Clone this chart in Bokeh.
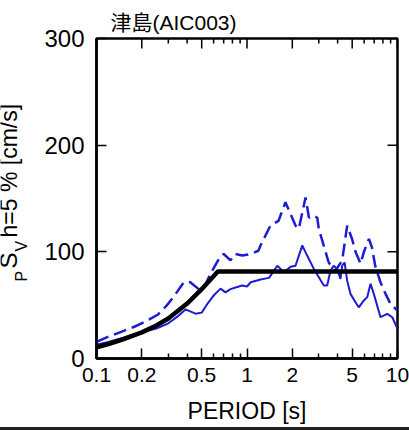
import math
from bokeh.plotting import figure
from bokeh.models import Range1d, FixedTicker, Label, Title
from bokeh.layouts import row
from bokeh.embed import file_html
from bokeh.resources import INLINE

# ---- data ----
period_design = [0.1, 0.12, 0.15, 0.2, 0.25, 0.3, 0.4, 0.5, 0.64, 10.0]
sv_design = [10.5, 13.5, 18.0, 24.5, 31.0, 37.5, 51.5, 65.0, 81.5, 81.5]

period_solid = [0.1, 0.12, 0.15, 0.18, 0.2, 0.25, 0.3, 0.35, 0.39, 0.455, 0.5,
                0.55, 0.6, 0.667, 0.72, 0.777, 0.861, 0.929, 1.0, 1.06, 1.23,
                1.40, 1.59, 1.76, 1.95, 2.10, 2.33, 2.51, 2.78, 3.24, 3.41,
                3.59, 3.77, 3.97, 4.18, 4.29, 4.45, 4.63, 4.87, 5.26, 5.53,
                5.98, 6.29, 6.62, 6.96, 7.71, 8.55, 9.23, 10.0]
sv_solid = [13.0, 15.5, 19.5, 23.0, 24.5, 28.0, 33.0, 40.0, 46.0, 42.0, 43.0,
            52.0, 59.0, 65.5, 62.0, 65.0, 67.0, 68.4, 67.5, 71.5, 74.0,
            75.6, 87.0, 81.0, 86.0, 87.0, 106.0, 96.5, 84.0, 68.4, 68.4,
            82.5, 87.0, 84.0, 74.7, 87.0, 90.0, 73.0, 60.6, 52.8, 48.0,
            54.4, 57.5, 70.0, 60.6, 38.7, 41.9, 38.7, 27.8]

period_dash = [0.1, 0.12, 0.146, 0.18, 0.21, 0.255, 0.29, 0.33, 0.38, 0.42,
               0.49, 0.52, 0.57, 0.66, 0.70, 0.777, 0.837, 0.93, 1.055, 1.19,
               1.23, 1.43, 1.62, 1.80, 2.10, 2.21, 2.45, 2.58, 2.78, 2.93,
               3.0, 3.49, 3.86, 4.29, 4.63, 4.99, 5.26, 5.69, 5.98, 6.46,
               6.77, 7.13, 7.71, 8.33, 9.0, 10.0]
sv_dash = [15.5, 20.5, 25.0, 30.0, 34.5, 41.0, 49.0, 59.0, 71.5, 71.5,
           63.7, 67.0, 79.0, 95.0, 98.0, 92.0, 98.0, 96.5, 98.0, 101.0,
           106.0, 124.6, 129.0, 146.5, 124.6, 121.5, 151.0, 132.0, 134.0, 132.0,
           121.5, 90.0, 82.0, 92.0, 124.6, 112.0, 100.0, 89.0, 100.0, 112.0,
           104.0, 86.0, 71.5, 60.6, 51.0, 45.0]

x_ticks = [0.1, 0.2, 0.5, 1, 2, 5, 10]
x_tick_labels = ["0.1", "0.2", "0.5", "1", "2", "5", "10"]
x_minor = [0.3, 0.4, 0.6, 0.7, 0.8, 0.9, 3, 4, 6, 7, 8, 9]
y_ticks = [0, 100, 200, 300]

title_text = "津島(AIC003)"
xlabel_text = "PERIOD [s]"
ylabel_parts = ["P", "S", "V", "h=5 % [cm/s]"]

FONT = "'Liberation Sans', 'Noto Sans CJK JP'"
BLUE = "#1c1cd0"

X0, X1, Y0, Y1 = 0.1, 10.0, 0.0, 300.0
LW = 40                      # width of the y-label strip
H = 427
BL, BR, BT, BB = 96 - LW, 12, 38, H - 358
FW, FH = 301, 320
W = BL + FW + BR

p = figure(width=W, height=H, x_axis_type="log",
           x_range=Range1d(X0, X1), y_range=Range1d(Y0, Y1),
           output_backend="svg", toolbar_location=None,
           min_border_left=BL, min_border_right=BR,
           min_border_top=BT, min_border_bottom=BB)
p.grid.visible = False
p.outline_line_color = "black"
p.outline_line_width = 2.5

def dx_log(px):
    return 10 ** (px / FW * math.log10(X1 / X0))
def dy(px):
    return px / FH * (Y1 - Y0)

xt = FixedTicker(ticks=x_ticks, minor_ticks=x_minor)
yt = FixedTicker(ticks=y_ticks, minor_ticks=[])

xa = p.xaxis[0]
xa.ticker = xt
xa.major_label_overrides = {float(t): s for t, s in zip(x_ticks, x_tick_labels)}
xa.axis_label = xlabel_text
xa.axis_label_text_font = FONT
xa.axis_label_text_font_style = "normal"
xa.axis_label_text_font_size = "23px"
xa.axis_label_text_color = "black"
xa.axis_label_standoff = 13
xa.major_label_text_font = FONT
xa.major_label_text_font_size = "21px"
xa.major_label_standoff = 9

ya = p.yaxis[0]
ya.ticker = yt
ya.major_label_text_font = FONT
ya.major_label_text_font_size = "24px"
ya.major_label_standoff = 12
ya.major_label_orientation = "horizontal"

for ax in (xa, ya):
    ax.axis_line_width = 2.5
    ax.major_tick_in = 10
    ax.major_tick_out = 0
    ax.minor_tick_in = 5
    ax.minor_tick_out = 0
    ax.major_tick_line_width = 1.5
    ax.minor_tick_line_width = 1.5
    ax.major_label_text_color = "black"

# mirrored ticks on top and right edges
p.segment(x0=x_ticks, y0=[Y1] * len(x_ticks), x1=x_ticks,
          y1=[Y1 - dy(10)] * len(x_ticks), line_color="black", line_width=1.5)
p.segment(x0=x_minor, y0=[Y1] * len(x_minor), x1=x_minor,
          y1=[Y1 - dy(5)] * len(x_minor), line_color="black", line_width=1.5)
p.segment(x0=[X1 / dx_log(10)] * len(y_ticks), y0=y_ticks,
          x1=[X1] * len(y_ticks), y1=y_ticks, line_color="black", line_width=1.5)

# data lines
p.line(period_solid, sv_solid, line_color=BLUE, line_width=2)
p.line(period_dash, sv_dash, line_color=BLUE, line_width=2.5,
       line_dash="13 6")
p.line(period_design, sv_design, line_color="black", line_width=4.5)

# title
p.add_layout(Title(text=title_text, align="left", offset=14,
                   text_font=FONT, text_font_size="21px",
                   text_font_style="normal", text_color="black",
                   standoff=10), "above")

# y-axis label strip: same top/bottom borders as the main plot, so its frame
# lines up with the main frame; coordinates are frame pixels
lab = figure(width=LW, height=H, x_range=Range1d(0, LW), y_range=Range1d(0, FH),
             output_backend="svg", toolbar_location=None,
             min_border_left=0, min_border_right=0,
             min_border_top=BT, min_border_bottom=BB)
lab.axis.visible = False
lab.grid.visible = False
lab.outline_line_color = None

ang = math.pi / 2
def ylab(txt, px, py, size):
    # px: canvas x of the rotated text box's left edge, py: canvas y of its start
    lab.add_layout(Label(x=px, y=BT + FH - py, text=txt, angle=ang,
                         text_font=FONT, text_font_size=size,
                         text_color="black", text_align="left",
                         text_baseline="alphabetic"))
ylab(ylabel_parts[0], 21, 281, "16px")
ylab(ylabel_parts[1], 8, 268, "24px")
ylab(ylabel_parts[2], 21, 251, "16px")
ylab(ylabel_parts[3], 8, 237, "23px")

layout = row(lab, p, spacing=0,
             styles={"border-bottom": "3px solid #222222"})
open("out.html", "w").write(file_html(layout, INLINE))
